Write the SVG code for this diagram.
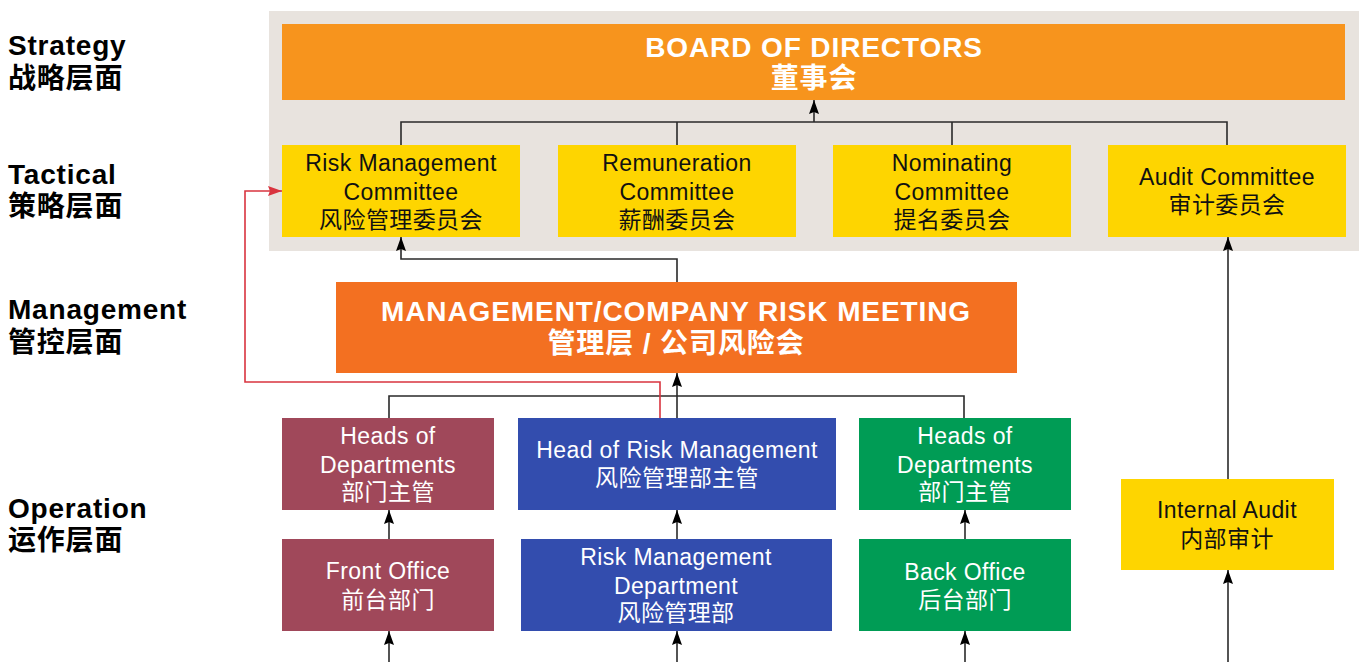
<svg xmlns="http://www.w3.org/2000/svg" width="1359" height="662" viewBox="0 0 1359 662">
<defs>
<style>
text{font-family:"Liberation Sans","Noto Sans CJK SC",sans-serif;text-anchor:middle}
.lbl{font-size:28px;font-weight:bold;fill:#000;text-anchor:start;letter-spacing:0.8px}
.big{font-size:28px;font-weight:bold;fill:#fff;letter-spacing:0.9px}
.dk{font-size:23px;fill:#111;letter-spacing:0.4px}
.wt{font-size:23px;fill:#fff;letter-spacing:0.4px}
.c{fill:none;stroke:#2a2a2a;stroke-width:1.6}
.r{fill:none;stroke:#d9343f;stroke-width:1.6}
</style>
<marker id="ah" viewBox="0 0 14 10" refX="14" refY="5" markerWidth="14" markerHeight="10" markerUnits="userSpaceOnUse" orient="auto"><path d="M0,0 L14,5 L0,10 L2,5 z" fill="#000"/></marker>
<marker id="ahr" viewBox="0 0 14 10" refX="14" refY="5" markerWidth="14" markerHeight="10" markerUnits="userSpaceOnUse" orient="auto"><path d="M0,0 L14,5 L0,10 L2,5 z" fill="#d9343f"/></marker>
</defs>
<rect x="0" y="0" width="1359" height="662" fill="#fff"/>
<rect id="panel" x="269" y="11" width="1090" height="240" fill="#e8e3de"/>

<g id="labels">
<text class="lbl" x="8" y="55">Strategy</text>
<text class="lbl" x="8" y="88">战略层面</text>
<text class="lbl" x="8" y="184">Tactical</text>
<text class="lbl" x="8" y="216">策略层面</text>
<text class="lbl" x="8" y="319">Management</text>
<text class="lbl" x="8" y="352">管控层面</text>
<text class="lbl" x="8" y="518">Operation</text>
<text class="lbl" x="8" y="550">运作层面</text>
</g>

<g id="connectors">
<path class="c" d="M401,145 V122 H1227 V145 M677,122 V145 M952,122 V145"/>
<path class="c" d="M814,122 V100" marker-end="url(#ah)"/>
<path class="c" d="M677,282 V259 H401 V237" marker-end="url(#ah)"/>
<path class="c" d="M389,418 V396 H964 V418"/>
<path class="c" d="M677,418 V373" marker-end="url(#ah)"/>
<path class="c" d="M389,539 V510" marker-end="url(#ah)"/>
<path class="c" d="M677,539 V510" marker-end="url(#ah)"/>
<path class="c" d="M965,539 V510" marker-end="url(#ah)"/>
<path class="c" d="M389,662 V631" marker-end="url(#ah)"/>
<path class="c" d="M677,662 V631" marker-end="url(#ah)"/>
<path class="c" d="M965,662 V631" marker-end="url(#ah)"/>
<path class="c" d="M1228,662 V570" marker-end="url(#ah)"/>
<path class="c" d="M1228,479 V237" marker-end="url(#ah)"/>
<path class="r" d="M660,418 V382 H245 V191 H282" marker-end="url(#ahr)"/>
</g>

<g id="board">
<rect x="282" y="24" width="1063" height="76" fill="#f7941d"/>
<text class="big" x="814" y="57">BOARD OF DIRECTORS</text>
<text class="big" x="814" y="88">董事会</text>
</g>

<g id="risk-committee">
<rect x="282" y="145" width="238" height="92" fill="#fed500"/>
<text class="dk" x="401" y="171">Risk Management</text>
<text class="dk" x="401" y="200">Committee</text>
<text class="dk" x="401" y="228">风险管理委员会</text>
</g>
<g id="remuneration-committee">
<rect x="558" y="145" width="238" height="92" fill="#fed500"/>
<text class="dk" x="677" y="171">Remuneration</text>
<text class="dk" x="677" y="200">Committee</text>
<text class="dk" x="677" y="228">薪酬委员会</text>
</g>
<g id="nominating-committee">
<rect x="833" y="145" width="238" height="92" fill="#fed500"/>
<text class="dk" x="952" y="171">Nominating</text>
<text class="dk" x="952" y="200">Committee</text>
<text class="dk" x="952" y="228">提名委员会</text>
</g>
<g id="audit-committee">
<rect x="1108" y="145" width="238" height="92" fill="#fed500"/>
<text class="dk" x="1227" y="185">Audit Committee</text>
<text class="dk" x="1227" y="213">审计委员会</text>
</g>

<g id="management-meeting">
<rect x="336" y="282" width="681" height="91" fill="#f37021"/>
<text class="big" x="676" y="321">MANAGEMENT/COMPANY RISK MEETING</text>
<text class="big" x="676" y="353">管理层 / 公司风险会</text>
</g>

<g id="heads-front">
<rect x="282" y="418" width="212" height="92" fill="#a0485a"/>
<text class="wt" x="388" y="444">Heads of</text>
<text class="wt" x="388" y="473">Departments</text>
<text class="wt" x="388" y="500">部门主管</text>
</g>
<g id="head-risk">
<rect x="518" y="418" width="318" height="92" fill="#334dae"/>
<text class="wt" x="677" y="458">Head of Risk Management</text>
<text class="wt" x="677" y="486">风险管理部主管</text>
</g>
<g id="heads-back">
<rect x="859" y="418" width="212" height="92" fill="#009c55"/>
<text class="wt" x="965" y="444">Heads of</text>
<text class="wt" x="965" y="473">Departments</text>
<text class="wt" x="965" y="500">部门主管</text>
</g>

<g id="front-office">
<rect x="282" y="539" width="212" height="92" fill="#a0485a"/>
<text class="wt" x="388" y="579">Front Office</text>
<text class="wt" x="388" y="608">前台部门</text>
</g>
<g id="risk-dept">
<rect x="521" y="539" width="311" height="92" fill="#334dae"/>
<text class="wt" x="676" y="565">Risk Management</text>
<text class="wt" x="676" y="594">Department</text>
<text class="wt" x="676" y="621">风险管理部</text>
</g>
<g id="back-office">
<rect x="859" y="539" width="212" height="92" fill="#009c55"/>
<text class="wt" x="965" y="580">Back Office</text>
<text class="wt" x="965" y="608">后台部门</text>
</g>

<g id="internal-audit">
<rect x="1121" y="479" width="213" height="91" fill="#fed500"/>
<text class="dk" x="1227" y="518">Internal Audit</text>
<text class="dk" x="1227" y="547">内部审计</text>
</g>
</svg>
